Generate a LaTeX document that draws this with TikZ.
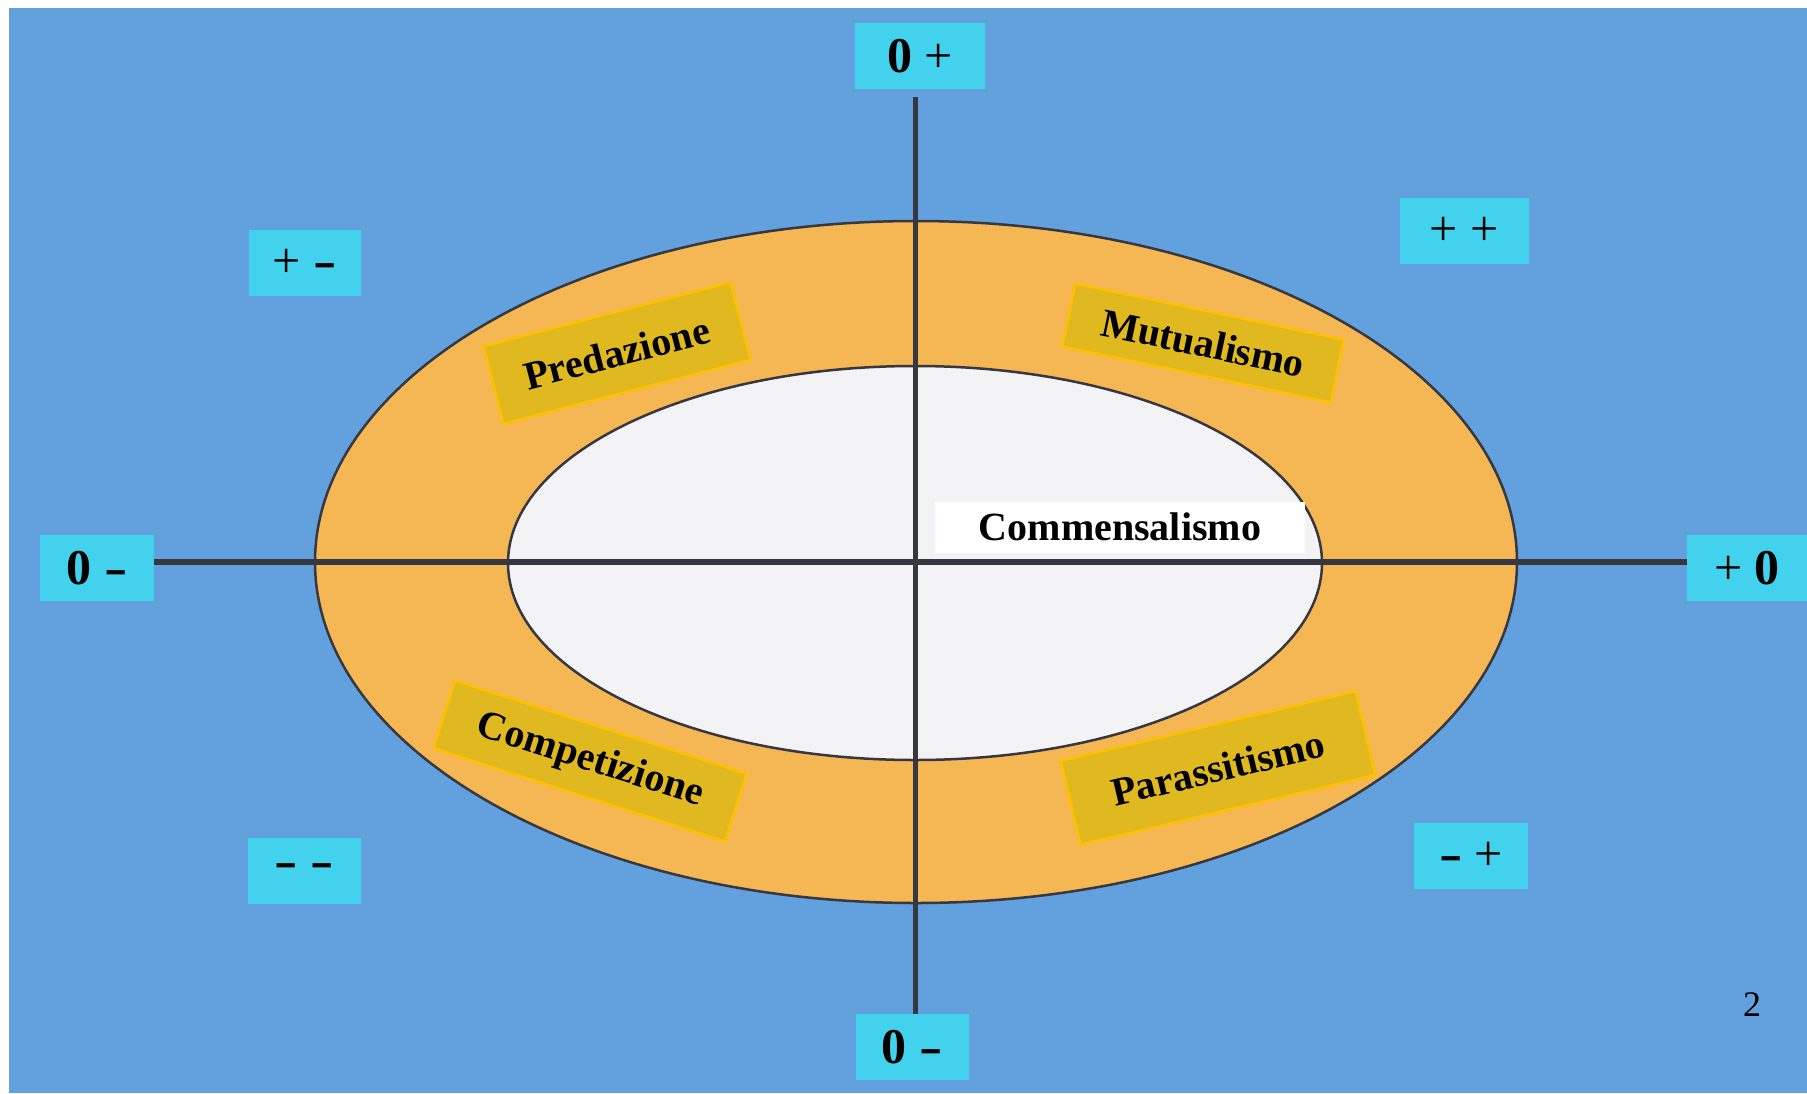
\documentclass[tikz,border=0pt]{standalone}
\usepackage{fontspec}
\setmainfont{Liberation Serif}
\definecolor{fondo}{RGB}{98,160,222}
\definecolor{ciano}{RGB}{66,210,238}
\definecolor{anello}{RGB}{245,182,84}
\definecolor{interno}{RGB}{243,243,246}
\definecolor{oro}{RGB}{224,184,32}
\definecolor{bordooro}{RGB}{255,192,0}
\definecolor{scuro}{RGB}{55,55,65}
\newcommand{\zero}{\textbf{0}}
\newcommand{\meno}{\scalebox{1.4}[1]{\textbf{-}}}
\tikzset{
	segno/.style={fill=ciano, inner sep=0pt, minimum height=66bp, font=\fontsize{50bp}{54bp}\selectfont},
	relazione/.style={fill=oro, draw=bordooro, line width=2.5bp, inner sep=0pt, font=\fontsize{40bp}{44bp}\selectfont\bfseries},
	asse/.style={draw=scuro},
	bordo/.style={draw=scuro, line width=2.5bp},
}
\begin{document}
\begin{tikzpicture}[x=1bp, y=-1bp]
	\useasboundingbox (0,0) rectangle (1807,1093);
	\fill[fondo] (9,8) rectangle (1807,1093);
	\coordinate (c) at (915,562);
	\filldraw[bordo, fill=anello] (916,562) ellipse [x radius=601, y radius=341];
	\filldraw[bordo, fill=interno] (915,563) ellipse [x radius=407, y radius=197];
	% segni
	\node[segno, minimum width=130bp] (zp) at (920,56) {\zero\ +};
	\node[segno, minimum width=112bp] (pm) at (305,263) {+ \meno};
	\node[segno, minimum width=129bp] (pp) at (1464,231) {+ +};
	\node[segno, minimum width=113bp] (zml) at (97,568) {\zero\ \meno};
	\node[segno, minimum width=120bp] (pz) at (1747,568) {+ \zero};
	\node[segno, minimum width=113bp] (mm) at (304,871) {\meno\ \meno};
	\node[segno, minimum width=114bp] (mp) at (1471,856) {\meno\ +};
	\node[segno, minimum width=113bp] (zmb) at (912,1047) {\zero\ \meno};
	\draw[asse, line width=6bp] (zml.east |- c) -- (pz.west |- c);
	\draw[asse, line width=5bp, shorten <=8bp] (zp.south -| c) -- (zmb.north -| c);
	% relazioni
	\node[relazione, rotate=14.5, minimum width=255bp, minimum height=80bp] (pred) at (617,353) {Predazione};
	\node[relazione, rotate=-11.8, minimum width=274bp, minimum height=64bp] (mutu) at (1203,343) {Mutualismo};
	\node[relazione, rotate=-17.7, minimum width=306bp, minimum height=71bp] (comp) at (590,761) {Competizione};
	\node[relazione, rotate=13.3, minimum width=303bp, minimum height=86bp] (para) at (1218,768) {Parassitismo};
	\node[fill=white, inner sep=0pt, minimum width=370bp, minimum height=51bp, font=\fontsize{40bp}{44bp}\selectfont\bfseries] (comm) at (1120,527) {Commensalismo};
	\node[font=\fontsize{36bp}{40bp}\selectfont] (pag) at (1752,1005) {2};
\end{tikzpicture}
\end{document}
